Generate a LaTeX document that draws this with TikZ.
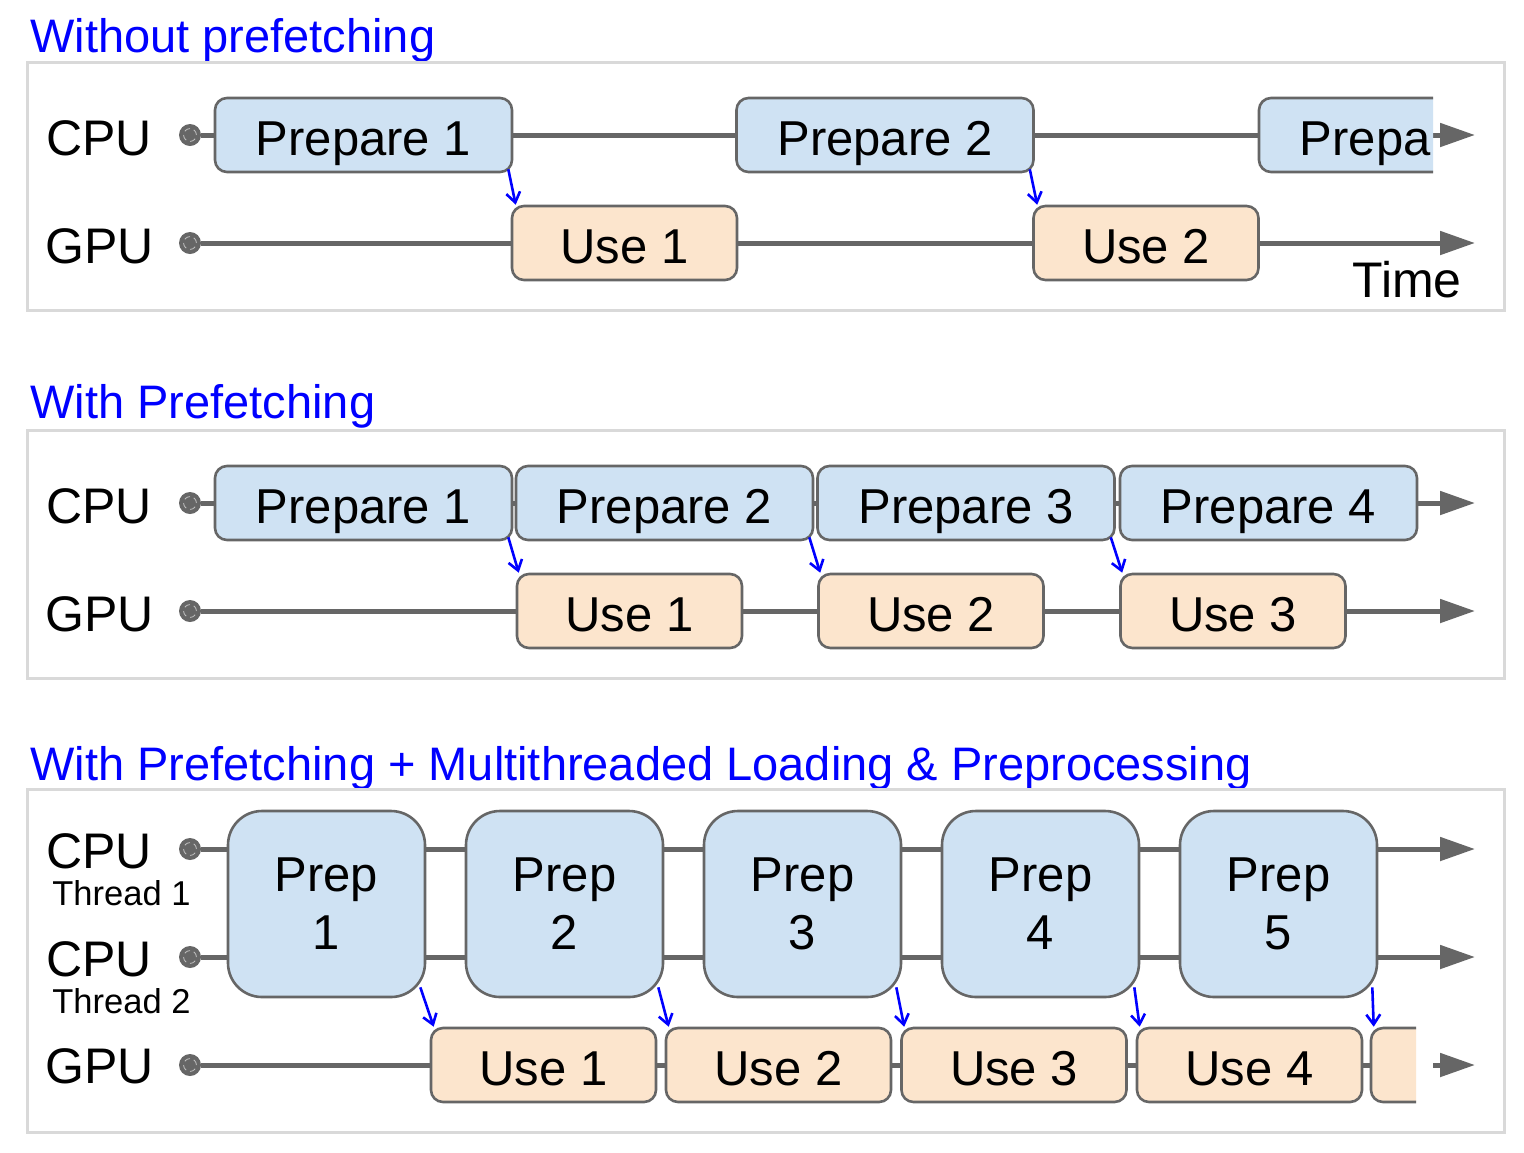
\documentclass[tikz,border=0pt]{standalone}
\usepackage{fontspec}
\setmainfont{Liberation Sans}
\usetikzlibrary{arrows.meta}

\definecolor{boxblue}{HTML}{CFE2F3}
\definecolor{boxorange}{HTML}{FCE5CD}
\definecolor{edgegray}{HTML}{666666}
\definecolor{framegray}{HTML}{D9D9D9}
\definecolor{titleblue}{HTML}{0000FF}

\tikzset{
  prepbox/.style={draw=edgegray, line width=1.3pt, fill=boxblue, rounded corners=6pt,
    minimum width=148.5pt, minimum height=37pt, inner sep=0pt, text height=20pt, text depth=0pt,
    font=\fontsize{24.5}{29}\selectfont},
  usebox/.style={prepbox, fill=boxorange, minimum width=112.5pt},
  bigprep/.style={draw=edgegray, line width=1.3pt, fill=boxblue, rounded corners=17pt,
    minimum width=98.5pt, minimum height=93pt, inner sep=0pt, align=center,
    font=\fontsize{24.5}{29}\selectfont},
  tdot/.style={circle, fill=edgegray, minimum size=11pt, inner sep=0pt,
    path picture={\draw[gray!50, line width=0.4pt, densely dashed] (path picture bounding box.center) circle (3.2pt);}},
  tline/.style={draw=edgegray, line width=2.5pt, -{Triangle[length=17.5pt,width=11.5pt]}},
  gline/.style={draw=edgegray, line width=2.5pt},
  dep/.style={draw=blue, line width=1.3pt, -{Straight Barb[length=5pt,width=7pt]}},
  lbl/.style={anchor=base west, inner sep=0pt, font=\fontsize{25}{30}\selectfont},
  sublbl/.style={anchor=base west, inner sep=0pt, font=\fontsize{17.25}{20}\selectfont},
  ttl/.style={anchor=base west, inner sep=0pt, text=titleblue, font=\fontsize{23.5}{28}\selectfont},
  frame/.style={draw=framegray, line width=1.5pt}
}

\begin{document}
\begin{tikzpicture}[x=0.5pt,y=-0.5pt]
  \fill[white] (0,0) rectangle (1524,1152);
  \useasboundingbox (0,0) rectangle (1524,1152);

  % without prefetching
  \node[ttl] (a-title) at (30,52) {Without prefetching};
  \draw[frame] (27,62) rectangle (1504,310);
  \node[lbl] (a-cpu) at (46,155) {CPU};
  \node[lbl] (a-gpu) at (45,263) {GPU};
  \node[tdot] (a-cpu-dot) at (190,135) {};
  \node[tdot] (a-gpu-dot) at (190,243) {};
  \coordinate (a-cpu-end) at (1475,135);
  \coordinate (a-gpu-end) at (1475,243);
  \draw[tline] (a-cpu-dot) -- (a-cpu-end);
  \draw[tline] (a-gpu-dot) -- (a-gpu-end);
  \node[prepbox] (a-p1) at (363.5,135) {Prepare 1};
  \node[usebox] (a-u1) at (624.5,243) {Use 1};
  \node[prepbox] (a-p2) at (885,135) {Prepare 2};
  \node[usebox] (a-u2) at (1146,243) {Use 2};
  \begin{scope}
    \clip (1240,80) rectangle (1433,190);
    \node[prepbox] (a-p3) at (1407.5,135) {Prepa\phantom{re 3}};
  \end{scope}
  \node[lbl] (a-time) at (1352,297) {Time};
  \draw[dep] ([xshift=-2.5pt,yshift=2pt]a-p1.south east) -- ([xshift=2.5pt]a-u1.north west);
  \draw[dep] ([xshift=-2.5pt,yshift=2pt]a-p2.south east) -- ([xshift=2.5pt]a-u2.north west);

  % with prefetching
  \node[ttl] (b-title) at (30,418) {With Prefetching};
  \draw[frame] (27,430) rectangle (1504,678);
  \node[lbl] (b-cpu) at (46,523) {CPU};
  \node[lbl] (b-gpu) at (45,631) {GPU};
  \node[tdot] (b-cpu-dot) at (190,503) {};
  \node[tdot] (b-gpu-dot) at (190,611) {};
  \coordinate (b-cpu-end) at (1475,503);
  \coordinate (b-gpu-end) at (1475,611);
  \draw[tline] (b-cpu-dot) -- (b-cpu-end);
  \draw[tline] (b-gpu-dot) -- (b-gpu-end);
  \node[prepbox] (b-p1) at (363.5,503) {Prepare 1};
  \node[prepbox] (b-p2) at (664.5,503) {Prepare 2};
  \node[prepbox] (b-p3) at (966,503) {Prepare 3};
  \node[prepbox] (b-p4) at (1268.5,503) {Prepare 4};
  \node[usebox] (b-u1) at (629.5,611) {Use 1};
  \node[usebox] (b-u2) at (931,611) {Use 2};
  \node[usebox] (b-u3) at (1233,611) {Use 3};
  \draw[dep] ([xshift=-2.5pt,yshift=2pt]b-p1.south east) -- ([xshift=1.5pt]b-u1.north west);
  \draw[dep] ([xshift=-2.5pt,yshift=2pt]b-p2.south east) -- ([xshift=1.5pt]b-u2.north west);
  \draw[dep] ([xshift=-2.5pt,yshift=2pt]b-p3.south east) -- ([xshift=1.5pt]b-u3.north west);

  % with prefetching and multithreaded loading
  \node[ttl] (c-title) at (30,780) {With Prefetching + Multithreaded Loading \& Preprocessing};
  \draw[frame] (27,789) rectangle (1504,1132);
  \node[lbl] (c-cpu1) at (46,868) {CPU};
  \node[sublbl] (c-thr1) at (52,905) {Thread 1};
  \node[lbl] (c-cpu2) at (46,976) {CPU};
  \node[sublbl] (c-thr2) at (52,1013) {Thread 2};
  \node[lbl] (c-gpu) at (45,1083) {GPU};
  \node[tdot] (c-cpu1-dot) at (190,849) {};
  \node[tdot] (c-cpu2-dot) at (190,957) {};
  \node[tdot] (c-gpu-dot) at (190,1065) {};
  \coordinate (c-cpu1-end) at (1475,849);
  \coordinate (c-cpu2-end) at (1475,957);
  \coordinate (c-gpu-cut) at (1416,1065);
  \coordinate (c-gpu-next) at (1433,1065);
  \coordinate (c-gpu-end) at (1475,1065);
  \draw[tline] (c-cpu1-dot) -- (c-cpu1-end);
  \draw[tline] (c-cpu2-dot) -- (c-cpu2-end);
  \draw[gline] (c-gpu-dot) -- (c-gpu-cut);
  \draw[tline] (c-gpu-next) -- (c-gpu-end);
  \node[bigprep] (c-p1) at (326.5,904) {Prep\\1};
  \node[bigprep] (c-p2) at (564.5,904) {Prep\\2};
  \node[bigprep] (c-p3) at (802.5,904) {Prep\\3};
  \node[bigprep] (c-p4) at (1040.5,904) {Prep\\4};
  \node[bigprep] (c-p5) at (1278.5,904) {Prep\\5};
  \node[usebox] (c-u1) at (543.5,1065) {Use 1};
  \node[usebox] (c-u2) at (778.5,1065) {Use 2};
  \node[usebox] (c-u3) at (1014,1065) {Use 3};
  \node[usebox] (c-u4) at (1249.5,1065) {Use 4};
  \begin{scope}
    \clip (1360,1015) rectangle (1416,1115);
    \node[usebox] (c-u5) at (1483.5,1065) {};
  \end{scope}
  \draw[dep] ([xshift=-3pt,yshift=5.5pt]c-p1.south east) -- ([xshift=2pt]c-u1.north west);
  \draw[dep] ([xshift=-3pt,yshift=5.5pt]c-p2.south east) -- ([xshift=2pt]c-u2.north west);
  \draw[dep] ([xshift=-3pt,yshift=5.5pt]c-p3.south east) -- ([xshift=2pt]c-u3.north west);
  \draw[dep] ([xshift=-3pt,yshift=5.5pt]c-p4.south east) -- ([xshift=2pt]c-u4.north west);
  \draw[dep] ([xshift=-3pt,yshift=5.5pt]c-p5.south east) -- ([xshift=2pt]c-u5.north west);
\end{tikzpicture}
\end{document}
